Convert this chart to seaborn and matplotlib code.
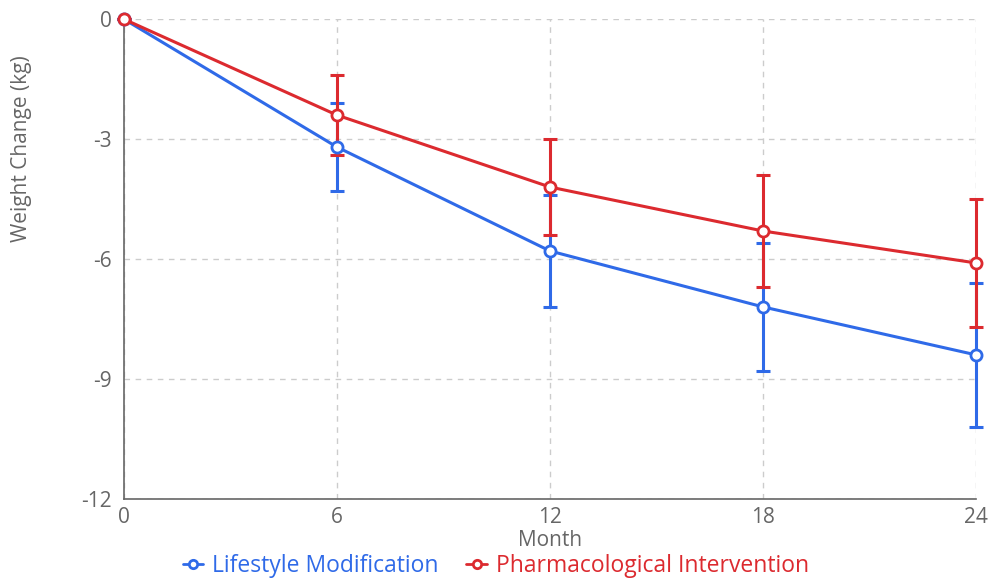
import pandas as pd
import matplotlib.pyplot as plt
import seaborn as sns

# Data
months = [0, 6, 12, 18, 24]
lifestyle = [0, -3.2, -5.8, -7.2, -8.4]
lifestyle_err = [0, 1.1, 1.4, 1.6, 1.8]
pharma = [0, -2.4, -4.2, -5.3, -6.1]
pharma_err = [0, 1.0, 1.2, 1.4, 1.6]

series = ['Lifestyle Modification', 'Pharmacological Intervention']
colors = {'Lifestyle Modification': '#2f6ae8', 'Pharmacological Intervention': '#dc2a2f'}

df = pd.concat([
    pd.DataFrame({'month': months, 'change': lifestyle, 'err': lifestyle_err, 'group': series[0]}),
    pd.DataFrame({'month': months, 'change': pharma, 'err': pharma_err, 'group': series[1]}),
])

sns.set_style('white')
plt.rcParams['font.family'] = ['Open Sans', 'DejaVu Sans']
plt.rcParams['axes.unicode_minus'] = False

fig, ax = plt.subplots(figsize=(9.92, 5.82), dpi=100)
fig.subplots_adjust(left=0.125, right=0.984, top=0.967, bottom=0.143)

grey = '#666666'

# Error bars first so lines/markers sit on top
for g in series:
    d = df[df['group'] == g]
    eb = ax.errorbar(d['month'], d['change'], yerr=d['err'], fmt='none',
                     ecolor=colors[g], elinewidth=2.2, capsize=5, capthick=2.2, zorder=2)
    for art in eb.lines[1] + eb.lines[2]:
        art.set_clip_on(False)

sns.lineplot(data=df, x='month', y='change', hue='group', palette=colors,
             linewidth=2.2, marker='o', markersize=8, markerfacecolor='white',
             markeredgewidth=2, ax=ax, zorder=3, legend=False)
# marker edges in series colours, no clipping at the plot edge
for line, g in zip(ax.get_lines()[-2:], series):
    line.set_markeredgecolor(colors[g])
    line.set_clip_on(False)

ax.set_xlim(0, 24)
ax.set_ylim(-12, 0)
ax.set_xticks(months)
ax.set_yticks([0, -3, -6, -9, -12])
ax.grid(True, linestyle=(0, (4, 4)), color='#cccccc', linewidth=1)
ax.set_axisbelow(True)

for s in ['top', 'right']:
    ax.spines[s].set_visible(False)
for s in ['left', 'bottom']:
    ax.spines[s].set_color(grey)
    ax.spines[s].set_linewidth(1.2)

ax.tick_params(axis='both', colors=grey, labelsize=15, length=5, width=1.2, direction='out')
ax.tick_params(axis='x', pad=1)
ax.set_xlabel('Month', color=grey, fontsize=15)
ax.xaxis.set_label_coords(0.5, -0.065)
ax.set_ylabel('Weight Change (kg)', color=grey, fontsize=15)
ax.yaxis.set_label_coords(-0.108, 0.73)

handles = [plt.Line2D([0], [0], color=colors[g], marker='o', markersize=6,
                      markerfacecolor='white', markeredgewidth=2, linewidth=2)
           for g in series]
fig.legend(handles, series, loc='center', ncol=2, frameon=False,
           fontsize=16.5, labelcolor=[colors[g] for g in series],
           handlelength=0.9, handletextpad=0.4, columnspacing=1.2,
           bbox_to_anchor=(0.5, 0.028))

plt.savefig('out.png', dpi=100)
